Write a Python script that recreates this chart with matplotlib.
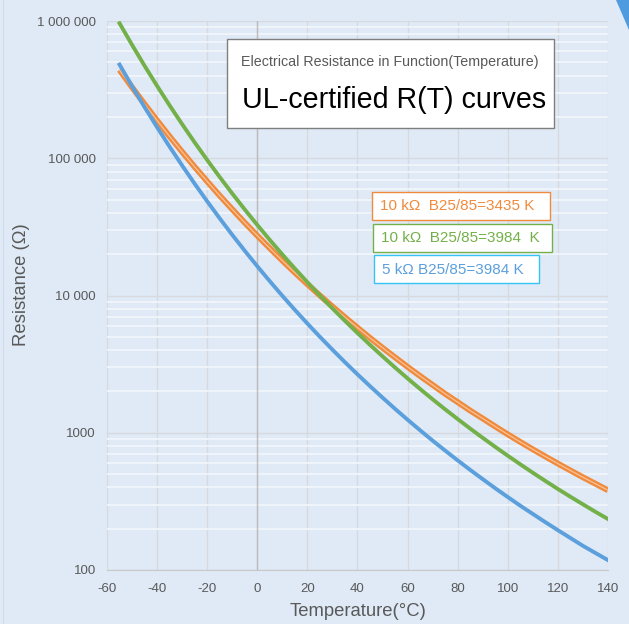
import matplotlib.pyplot as plt
from matplotlib.patches import Polygon
from matplotlib.ticker import FixedLocator, LogLocator, NullFormatter

plt.rcParams['font.family'] = ['Liberation Sans', 'DejaVu Sans']
plt.rcParams['axes.unicode_minus'] = False

# temperature points (degC)
temp = [-55, -50, -45, -40, -35, -30, -25, -20, -15, -10, -5, 0, 5, 10, 15, 20,
        25, 30, 35, 40, 45, 50, 55, 60, 65, 70, 75, 80, 85, 90, 95, 100, 105,
        110, 115, 120, 125, 130, 135, 140]

# resistance (ohm)
r_10k_3435 = [440000, 329000, 248000, 188400, 144200, 111300, 86500, 67800,
              53400, 42500, 33900, 27300, 22100, 17960, 14680, 12090, 10000,
              8310, 6940, 5830, 4910, 4160, 3540, 3020, 2590, 2230, 1920, 1670,
              1450, 1270, 1110, 973, 857, 757, 671, 596, 531, 474, 425, 381]
r_10k_3984 = [963000, 670100, 471700, 336500, 242600, 177000, 130400, 97070,
              72930, 55330, 42320, 32650, 25390, 19900, 15710, 12490, 10000,
              8057, 6530, 5327, 4369, 3603, 2986, 2488, 2083, 1752, 1481, 1258,
              1072, 917.7, 788.5, 680.0, 588.6, 511.2, 445.4, 389.3, 341.7,
              300.9, 265.4, 235.1]
r_5k_3984 = [481500, 335000, 235900, 168200, 121300, 88500, 65200, 48540,
             36460, 27660, 21160, 16330, 12700, 9950, 7855, 6245, 5000, 4029,
             3265, 2664, 2185, 1802, 1493, 1244, 1042, 876, 741, 629, 536,
             459, 394, 340, 294, 256, 223, 195, 171, 150, 133, 118]

xticks = [-60, -40, -20, 0, 20, 40, 60, 80, 100, 120, 140]
yticks = [100, 1000, 10000, 100000, 1000000]
ytick_labels = ['100', '1000', '10 000', '100 000', '1 000 000']

bg = '#dfeaf6'
orange = '#f08a3c'
green = '#74b04a'
blue = '#5b9fdc'
gray_txt = '#595959'

W, H = 629, 624
fig = plt.figure(figsize=(W / 100, H / 100), dpi=100, facecolor=bg)
ax = fig.add_axes([107 / W, 54 / H, 501 / W, 549 / H])
ax.set_facecolor(bg)

ax.set_yscale('log')
ax.set_xlim(-60, 140)
ax.set_ylim(100, 1000000)

ax.yaxis.set_minor_locator(LogLocator(base=10, subs=range(2, 10)))
ax.yaxis.set_minor_formatter(NullFormatter())
ax.yaxis.set_major_locator(FixedLocator(yticks))
ax.set_yticks(yticks)
ax.set_yticklabels(ytick_labels)
ax.set_xticks(xticks)
ax.grid(which='minor', axis='y', color='#f3f7fc', lw=1.2)
ax.grid(which='major', axis='y', color='#d6d9dd', lw=1)
ax.grid(which='major', axis='x', color='#d6d9dd', lw=1)
ax.axvline(0, color='#bcbcbc', lw=1)

for s in ['top', 'right', 'left']:
    ax.spines[s].set_visible(False)
ax.spines['bottom'].set_color('#c8c8c8')
ax.tick_params(which='both', length=0, colors=gray_txt, labelsize=9.5)
ax.tick_params(axis='y', pad=8)
ax.tick_params(axis='x', pad=9)

# curves
ax.plot(temp, r_10k_3435, color=orange, lw=4.2, solid_capstyle='butt')
ax.plot(temp, r_10k_3435, color='#f7c39a', lw=0.9)
ax.plot(temp, r_10k_3984, color=green, lw=2.8)
ax.plot(temp, r_5k_3984, color=blue, lw=2.8)

ax.set_xlabel('Temperature(°C)', fontsize=13.3, color=gray_txt, va='center')
ax.set_ylabel('Resistance (Ω)', fontsize=13.3, color=gray_txt, va='center')
ax.xaxis.set_label_coords((358 - 107) / 501, (12 - 54) / 549)
ax.yaxis.set_label_coords((22 - 107) / 501, 0.52)

# title box
fig.patches.append(plt.Rectangle((227 / W, 1 - 128 / H), 327 / W, 89 / H,
                                 transform=fig.transFigure, fc='white',
                                 ec='#7f7f7f', lw=1, zorder=2))
fig.text(241 / W, 1 - 62 / H, 'Electrical Resistance in Function(Temperature)',
         fontsize=10.3, color=gray_txt, va='center', ha='left', zorder=3)
fig.text(242 / W, 1 - 100 / H, 'UL-certified R(T) curves',
         fontsize=20.6, color='black', va='center', ha='left', zorder=3)

# legend boxes
labels = [('10 kΩ  B25/85=3435 K', orange, orange, 372, 192, 178),
          ('10 kΩ  B25/85=3984  K', green, green, 373, 224, 179),
          ('5 kΩ B25/85=3984 K', blue, '#33c4f5', 374, 255, 165)]
for txt, c, ec, x0, y0, w in labels:
    fig.patches.append(plt.Rectangle((x0 / W, 1 - (y0 + 28) / H), w / W, 28 / H,
                                     transform=fig.transFigure, fc='white',
                                     ec=ec, lw=1, zorder=2))
    fig.text((x0 + 8) / W, 1 - (y0 + 14.5) / H, txt, fontsize=11,
             color=c, va='center', ha='left', zorder=3)

# decoration in top right corner
fig.patches.append(Polygon([(616 / W, 1), (1, 1), (1, 1 - 30 / H)],
                           closed=True, transform=fig.transFigure,
                           fc='#4f9be0', ec='none'))
fig.patches.append(plt.Rectangle((3 / W, 0), 0.5 / W, 1, transform=fig.transFigure,
                                 fc='#cfdbe8', ec='none'))

fig.savefig('out.png', dpi=100, facecolor=bg)
